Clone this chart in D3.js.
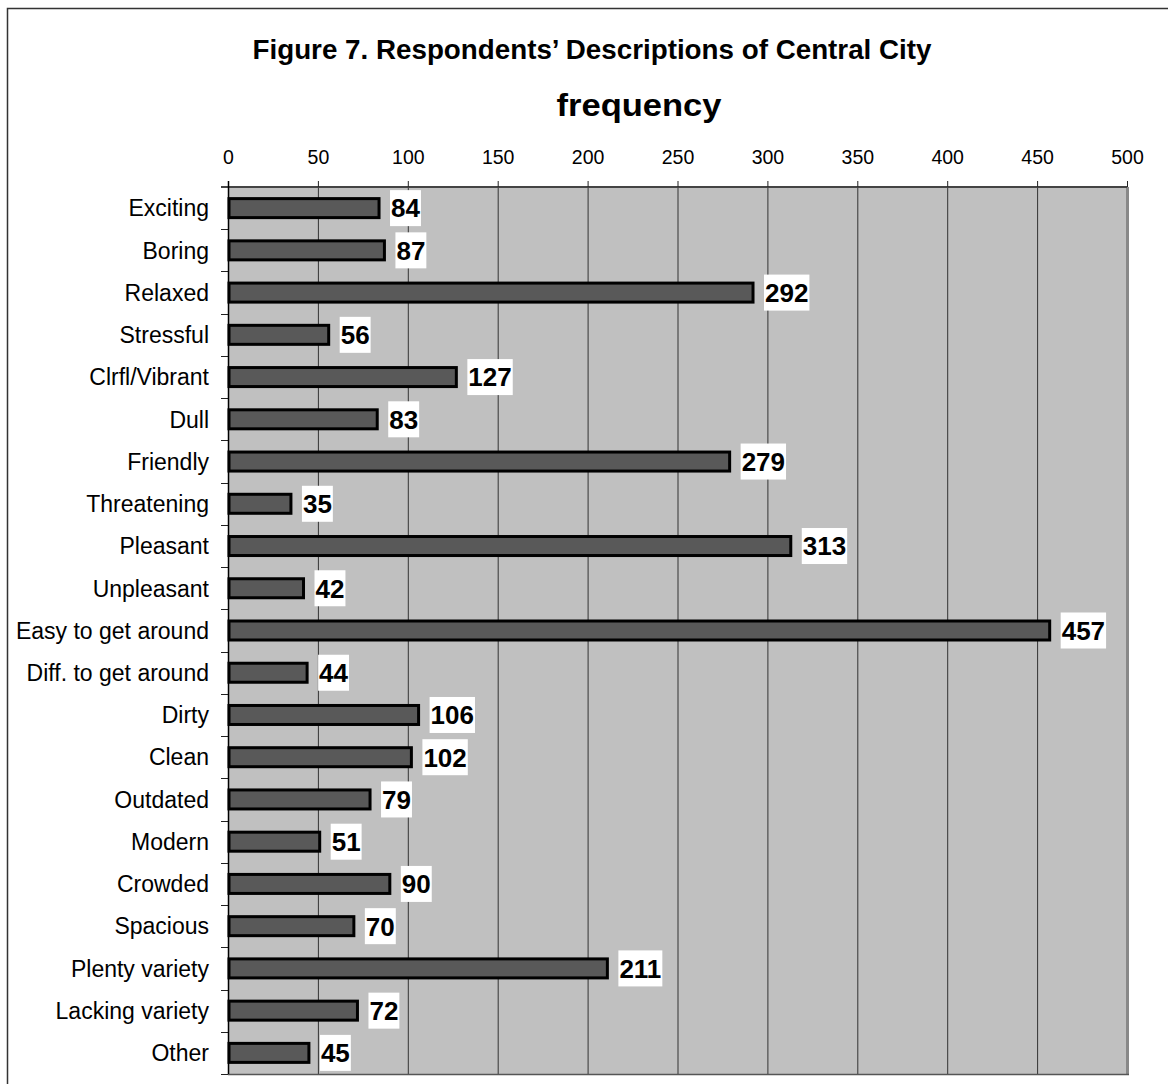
<!DOCTYPE html>
<html>
<head>
<meta charset="utf-8">
<script src="https://cdn.jsdelivr.net/npm/d3@7"></script>
<style>
  body { margin: 0; background: #fff; }
  svg { font-family: "Liberation Sans", Arial, sans-serif; }
</style>
</head>
<body>
<svg id="chart" width="1168" height="1084"></svg>
<script>
'use strict';
let categories = ["Exciting", "Boring", "Relaxed", "Stressful", "Clrfl/Vibrant", "Dull", "Friendly",
    "Threatening", "Pleasant", "Unpleasant", "Easy to get around", "Diff. to get around", "Dirty",
    "Clean", "Outdated", "Modern", "Crowded", "Spacious", "Plenty variety", "Lacking variety", "Other"];
let frequency = [84, 87, 292, 56, 127, 83, 279, 35, 313, 42, 457, 44, 106, 102, 79, 51, 90, 70, 211, 72, 45];
let xTicks = [0, 50, 100, 150, 200, 250, 300, 350, 400, 450, 500];

let svg = d3.select("#chart"),
    margin = {top: 187, right: 41, bottom: 10, left: 228},
    width = +svg.attr("width"),
    height = +svg.attr("height");

// outer frame
svg.append("rect")
    .attr("x", 7.5).attr("y", 8.5)
    .attr("width", 1200).attr("height", 1100)
    .attr("fill", "none").attr("stroke", "#333").attr("stroke-width", 1.5);

svg.append("text")
    .attr("x", 592).attr("y", 59)
    .attr("text-anchor", "middle")
    .attr("font-weight", "bold").attr("font-size", 27)
    .attr("textLength", 679).attr("lengthAdjust", "spacingAndGlyphs")
    .text("Figure 7. Respondents\u2019 Descriptions of Central City");

svg.append("text")
    .attr("x", 639).attr("y", 116)
    .attr("text-anchor", "middle")
    .attr("font-weight", "bold").attr("font-size", 32)
    .attr("textLength", 165).attr("lengthAdjust", "spacingAndGlyphs")
    .text("frequency");

let x = d3.scaleLinear()
    .domain([0, 500])
    .range([margin.left, width - margin.right]);

let y = d3.scaleBand()
    .domain(categories)
    .range([margin.top, height - margin.bottom])
    .paddingInner(0.55).paddingOuter(0.275);

let y0 = margin.top, y1 = height - margin.bottom;

// plot background
svg.append("rect")
    .attr("x", x(0)).attr("y", y0)
    .attr("width", x(500) - x(0)).attr("height", y1 - y0)
    .attr("fill", "#c0c0c0");

// gridlines
svg.append("g")
    .selectAll("line")
    .data(xTicks.slice(1, -1))
    .enter().append("line")
    .attr("x1", d => x(d) + 0.5).attr("x2", d => x(d) + 0.5)
    .attr("y1", y0).attr("y2", y1)
    .attr("stroke", "#333").attr("stroke-width", 1);

// right shadow edge
svg.append("line")
    .attr("x1", x(500) + 0.5).attr("x2", x(500) + 0.5)
    .attr("y1", y0).attr("y2", y1)
    .attr("stroke", "#888").attr("stroke-width", 3);

// bottom edge
svg.append("line")
    .attr("x1", x(0)).attr("x2", x(500) + 2)
    .attr("y1", y1 + 0.5).attr("y2", y1 + 0.5)
    .attr("stroke", "#555").attr("stroke-width", 1.5);

// top axis
let xAxis = svg.append("g")
    .attr("transform", "translate(0," + y0 + ")")
    .call(d3.axisTop(x).tickValues(xTicks).tickSize(6).tickPadding(17).tickSizeOuter(0));
xAxis.select(".domain").attr("stroke", "#444").attr("stroke-width", 2)
    .attr("d", "M" + (x(0) - 7) + ",0H" + x(500));
xAxis.selectAll(".tick line").attr("stroke", "#222");
xAxis.selectAll("text")
    .attr("font-size", 19.5)
    .attr("font-family", "Liberation Sans, Arial, sans-serif")
    .attr("fill", "#000");

// category axis
let boundaries = categories.map((c, i) => y0 + (y1 - y0) * (i + 1) / categories.length);
svg.append("g")
    .selectAll("line")
    .data(boundaries)
    .enter().append("line")
    .attr("x1", x(0) - 7).attr("x2", x(0))
    .attr("y1", d => Math.round(d) + 0.5).attr("y2", d => Math.round(d) + 0.5)
    .attr("stroke", "#222");

svg.append("line")
    .attr("x1", x(0) + 0.5).attr("x2", x(0) + 0.5)
    .attr("y1", y0 - 6).attr("y2", y1)
    .attr("stroke", "#000").attr("stroke-width", 1.5);

svg.append("g")
    .selectAll("text")
    .data(categories)
    .enter().append("text")
    .attr("x", 209)
    .attr("y", d => y(d) + y.bandwidth() / 2)
    .attr("dy", "0.36em")
    .attr("text-anchor", "end")
    .attr("font-size", 23)
    .text(d => d);

// bars
svg.append("g")
    .selectAll("rect")
    .data(frequency)
    .enter().append("rect")
    .attr("x", x(0) + 1)
    .attr("y", (d, i) => y(categories[i]))
    .attr("width", d => x(d) - x(0) - 1)
    .attr("height", y.bandwidth())
    .attr("fill", "#595959")
    .attr("stroke", "#000").attr("stroke-width", 3);

// value labels
let lab = svg.append("g")
    .selectAll("g")
    .data(frequency)
    .enter().append("g")
    .attr("transform", (d, i) => "translate(" + (x(d) + 11) + "," + (y(categories[i]) + y.bandwidth() / 2) + ")");
lab.append("rect")
    .attr("fill", "#fff")
    .attr("y", -18).attr("height", 36);
lab.append("text")
    .attr("x", 1)
    .attr("dy", "0.36em")
    .attr("font-weight", "bold")
    .attr("font-size", 26)
    .text(d => d);
lab.each(function() {
    let g = d3.select(this);
    let w = g.select("text").node().getComputedTextLength();
    g.select("rect").attr("width", w + 2);
});
</script>
</body>
</html>
